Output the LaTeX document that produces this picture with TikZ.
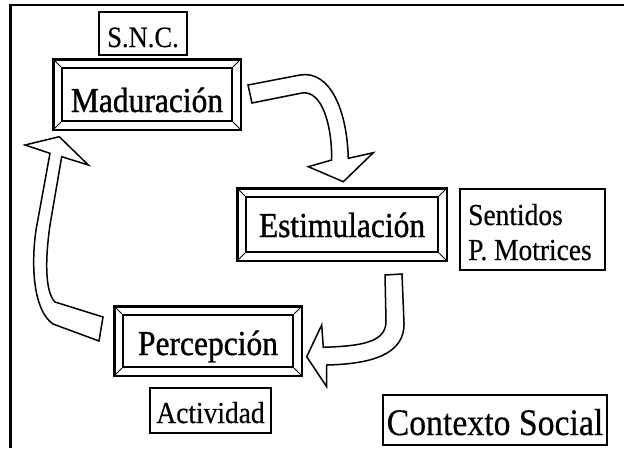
\documentclass[tikz,border=0pt]{standalone}
\usepackage{fontspec}
\setmainfont[FakeStretch=0.9, FakeBold=0.4]{Liberation Serif}
\newfontfamily\boldish[FakeStretch=0.9, FakeBold=1.0]{Liberation Serif}
\newcommand\fsz[1]{\fontsize{#1}{#1}\selectfont}
\tikzset{
  plainbox/.style={draw, line width=1.8pt, inner sep=0pt, text depth=0pt},
  bevel/.style={draw, line width=2.2pt, inner sep=0pt, text depth=0pt,
    append after command={\pgfextra{\let\bn\tikzlastnode
      \draw[line width=2.2pt] ([shift={(-7.5,-7.5)}]\bn.north west) rectangle ([shift={(7.5,7.5)}]\bn.south east);
      \draw[line width=0.9pt] ([shift={(-7.5,-7.5)}]\bn.north west) -- (\bn.north west)
        ([shift={(7.5,-7.5)}]\bn.north east) -- (\bn.north east)
        ([shift={(-7.5,7.5)}]\bn.south west) -- (\bn.south west)
        ([shift={(7.5,7.5)}]\bn.south east) -- (\bn.south east);
    }}},
  blockarrow/.style={draw, fill=white, line width=1.5pt, line join=miter},
  txt/.style={inner sep=0pt, anchor=base west}
}
\begin{document}
\begin{tikzpicture}[x=1pt, y=-1pt]
\useasboundingbox (0,0) rectangle (624,448);
% frame lines
\draw[line width=2.4pt] (10.5,448) -- (10.5,4.8) -- (624,4.8);

% boxes
\node[plainbox, minimum width=88pt, minimum height=43pt, text height=27pt, font=\fsz{29.5}] (snc) at (143,33.5) {S.N.C.};
\node[bevel, minimum width=170pt, minimum height=53pt, text height=35pt, font=\boldish\fsz{35}] (mad) at (147,94.5) {Maduración};
\node[bevel, minimum width=192pt, minimum height=55pt, text height=25pt, font=\boldish\fsz{35}] (est) at (342,224.5) {Estimulación};
\node[plainbox, minimum width=145pt, minimum height=81pt] (sent) at (532.5,229.5) {};
\node[txt, font=\fsz{30.5}] (senta) at (468,225) {Sentidos};
\node[txt, font=\fsz{30.5}] (sentb) at (468,260) {P. Motrices};
\node[bevel, minimum width=170pt, minimum height=52pt, text height=28pt, font=\boldish\fsz{35}] (per) at (208,341) {Percepción};
\node[plainbox, minimum width=121pt, minimum height=45pt, text height=25pt, font=\fsz{30.5}] (act) at (210.5,410.5) {Actividad};
\node[plainbox, minimum width=224pt, minimum height=50pt, text height=30pt, font=\fsz{37.5}] (ctx) at (495,420) {Contexto Social};

% arrow Maduracion -> Estimulacion
\draw[blockarrow] (248,85) -- (300,75) .. controls (330,70) and (347,110) .. (348.3,158.3)
  -- (373.3,152.7) -- (343.3,181.7) -- (308.3,166.7) -- (331.7,160)
  .. controls (332,125) and (322,90) .. (302,93) -- (252,103) -- cycle;

% arrow Estimulacion -> Percepcion
\draw[blockarrow] (385,275) -- (386,320) .. controls (387,343) and (360,346) .. (323.3,347.3)
  -- (321.7,325) -- (306.7,356.7) -- (326.7,386.7) -- (326.7,365)
  .. controls (370,364) and (405,355) .. (404,323) -- (402,274) -- cycle;

% arrow Percepcion -> Maduracion
\draw[blockarrow] (103,317) -- (55,302) .. controls (45,292) and (45,260) .. (50,225)
  -- (61.7,156.7) -- (88.3,165) -- (59.3,136.7) -- (25,145) -- (50,153.3)
  -- (36,230) .. controls (31,265) and (33,310) .. (53,324) -- (99,341) -- cycle;
\end{tikzpicture}
\end{document}
